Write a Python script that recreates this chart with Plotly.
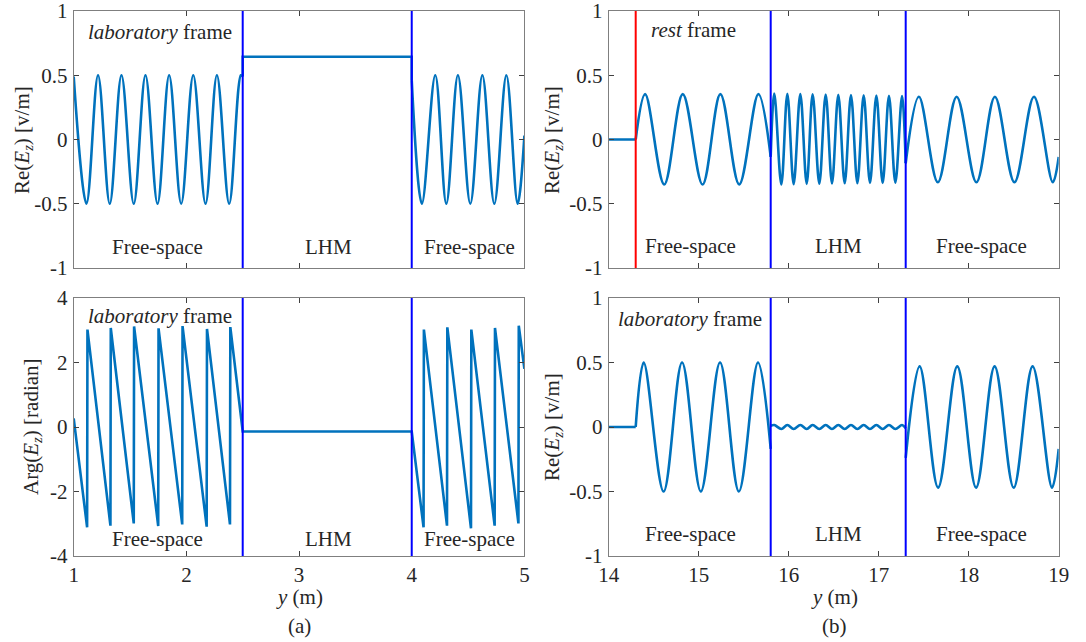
import plotly.graph_objects as go

# ---------------- data ----------------
# (a) top: Re(Ez), laboratory frame
a_fs1_x = [1.0, 1.113, 1.216, 1.32, 1.424, 1.533, 1.637, 1.744, 1.847, 1.954, 2.061, 2.17, 2.271, 2.38, 2.484, 2.5]
a_fs1_y = [0.49, -0.5, 0.5, -0.5, 0.5, -0.5, 0.5, -0.5, 0.5, -0.5, 0.5, -0.5, 0.5, -0.5, 0.5, 0.49]
a_lhm_x = [2.5, 2.5, 4.0, 4.0]
a_lhm_y = [0.49, 0.644, 0.644, 0.46]
a_fs2_x = [4.0, 4.09, 4.209, 4.307, 4.41, 4.52, 4.627, 4.733, 4.84, 4.94, 5.0]
a_fs2_y = [0.46, -0.5, 0.5, -0.5, 0.5, -0.5, 0.5, -0.5, 0.5, -0.5, 0.03]

# (a) bottom: Arg(Ez), laboratory frame
a_arg_x = [1.0, 1.119, 1.122, 1.326, 1.329, 1.533, 1.536, 1.75, 1.753, 1.963, 1.966,
           2.18, 2.183, 2.387, 2.39, 2.5, 4.0,
           4.105, 4.108, 4.313, 4.316, 4.526, 4.529, 4.736, 4.739, 4.947, 4.95, 5.0]
a_arg_y = [0.27, -3.11, 3.02, -3.06, 3.07, -2.99, 3.12, -3.07, 3.06, -3.02, 3.13,
           -3.09, 3.04, -3.02, 3.10, -0.14, -0.14,
           -3.11, 3.02, -3.06, 3.09, -3.14, 3.02, -3.06, 3.07, -2.99, 3.14, 1.8]

# (b) top: Re(Ez), rest frame
b_rest_pre_x = [14.0, 14.3]
b_rest_pre_y = [0.0, 0.0]
b_rest_fs1_x = [14.3, 14.405, 14.617, 14.823, 15.043, 15.241, 15.45, 15.663, 15.8]
b_rest_fs1_y = [0.0, 0.353, -0.35, 0.353, -0.35, 0.353, -0.35, 0.353, -0.134]
b_lhm_x = [15.8, 15.840, 15.918, 15.985, 16.055, 16.129, 16.200, 16.266, 16.340, 16.411, 16.481,
           16.551, 16.622, 16.692, 16.763, 16.833, 16.903, 16.974, 17.044, 17.114, 17.185, 17.259, 17.3]
b_rest_lhm_y = [-0.134, 0.358, -0.349, 0.356, -0.347, 0.354, -0.345, 0.352, -0.344, 0.350, -0.342,
                0.348, -0.341, 0.346, -0.340, 0.344, -0.339, 0.342, -0.338, 0.340, -0.336, 0.339, -0.185]
b_rest_fs2_x = [17.3, 17.447, 17.657, 17.866, 18.086, 18.291, 18.508, 18.725, 18.934, 19.0]
b_rest_fs2_y = [-0.185, 0.333, -0.333, 0.333, -0.333, 0.333, -0.333, 0.333, -0.333, -0.135]

# (b) bottom: Re(Ez), laboratory frame
b_lab_pre_x = [14.0, 14.3]
b_lab_pre_y = [0.0, 0.0]
b_lab_fs1_x = [14.3, 14.389, 14.61, 14.815, 15.024, 15.237, 15.446, 15.659, 15.8]
b_lab_fs1_y = [0.0, 0.5, -0.5, 0.5, -0.5, 0.5, -0.5, 0.5, -0.17]
b_lab_lhm_y = [0.01, 0.015, -0.015, 0.015, -0.015, 0.015, -0.015, 0.015, -0.015, 0.015, -0.015,
               0.015, -0.015, 0.015, -0.015, 0.015, -0.015, 0.015, -0.015, 0.015, -0.015, 0.015, -0.01]
b_lab_fs2_x = [17.3, 17.455, 17.66, 17.873, 18.082, 18.288, 18.5, 18.71, 18.926, 19.0]
b_lab_fs2_y = [-0.24, 0.47, -0.47, 0.47, -0.47, 0.47, -0.47, 0.47, -0.47, -0.17]

# interfaces
a_interfaces = [2.5, 4.0]
b_source = [14.3]
b_interfaces = [15.8, 17.3]

# ticks
a_xticks = [1, 2, 3, 4, 5]
b_xticks = [14, 15, 16, 17, 18, 19]
re_yticks = [-1, -0.5, 0, 0.5, 1]
re_ytext = ["-1", "-0.5", "0", "0.5", "1"]
arg_yticks = [-4, -2, 0, 2, 4]
arg_ytext = ["-4", "-2", "0", "2", "4"]

# ---------------- styling ----------------
FONT = "Liberation Serif"
FS = 21
CURVE = "#0072BD"
TXT = "#262626"
W, H = 1086, 642

fig = go.Figure()


def curve(x, y, xa, ya, shape="spline"):
    fig.add_trace(go.Scatter(x=x, y=y, mode="lines", xaxis=xa, yaxis=ya,
                             line=dict(color=CURVE, width=2.6, shape=shape,
                                       smoothing=1.0 if shape == "spline" else None),
                             showlegend=False, hoverinfo="skip"))


# (a) top
curve(a_fs1_x, a_fs1_y, "x", "y")
curve(a_lhm_x, a_lhm_y, "x", "y", "linear")
curve(a_fs2_x, a_fs2_y, "x", "y")
# (a) bottom
curve(a_arg_x, a_arg_y, "x3", "y3", "linear")
# (b) top
curve(b_rest_pre_x, b_rest_pre_y, "x2", "y2", "linear")
curve(b_rest_fs1_x, b_rest_fs1_y, "x2", "y2")
curve(b_lhm_x, b_rest_lhm_y, "x2", "y2")
curve(b_rest_fs2_x, b_rest_fs2_y, "x2", "y2")
# (b) bottom
curve(b_lab_pre_x, b_lab_pre_y, "x4", "y4", "linear")
curve(b_lab_fs1_x, b_lab_fs1_y, "x4", "y4")
curve(b_lhm_x, b_lab_lhm_y, "x4", "y4")
curve(b_lab_fs2_x, b_lab_fs2_y, "x4", "y4")

# domains (paper fractions)
LX = [73.7 / W, 524.4 / W]
RX = [608.7 / W, 1058.7 / W]
TY = [1 - 268 / H, 1 - 11 / H]
BY = [1 - 556 / H, 1 - 298 / H]

AX_LINE = "#7f7f7f"


def xaxis(domain, anchor, rng, ticks, labels):
    return dict(domain=domain, anchor=anchor, range=rng, tickvals=ticks,
                ticktext=[str(t) for t in ticks], showticklabels=labels,
                ticks="inside", ticklen=5, tickwidth=1, tickcolor="#404040",
                showline=True, linecolor=AX_LINE, linewidth=1, mirror="ticks",
                showgrid=False, zeroline=False, automargin=False,
                ticklabeloverflow="allow",
                tickfont=dict(family=FONT, size=FS, color=TXT), fixedrange=True)


def yaxis(domain, anchor, rng, ticks, text):
    return dict(domain=domain, anchor=anchor, range=rng, tickvals=ticks, ticktext=text,
                ticks="inside", ticklen=5, tickwidth=1, tickcolor="#404040",
                showline=True, linecolor=AX_LINE, linewidth=1, mirror="ticks",
                showgrid=False, zeroline=False, ticklabelstandoff=1, automargin=False,
                ticklabeloverflow="allow",
                tickfont=dict(family=FONT, size=FS, color=TXT), fixedrange=True)


fig.update_layout(
    width=W, height=H, margin=dict(l=0, r=0, t=0, b=0, autoexpand=False),
    paper_bgcolor="white", plot_bgcolor="white",
    font=dict(family=FONT, size=FS, color=TXT),
    xaxis=xaxis(LX, "y", [1, 5], a_xticks, False),
    yaxis=yaxis(TY, "x", [-1, 1], re_yticks, re_ytext),
    xaxis2=xaxis(RX, "y2", [14, 19], b_xticks, False),
    yaxis2=yaxis(TY, "x2", [-1, 1], re_yticks, re_ytext),
    xaxis3=xaxis(LX, "y3", [1, 5], a_xticks, True),
    yaxis3=yaxis(BY, "x3", [-4, 4], arg_yticks, arg_ytext),
    xaxis4=xaxis(RX, "y4", [14, 19], b_xticks, True),
    yaxis4=yaxis(BY, "x4", [-1, 1], re_yticks, re_ytext),
)

# interface lines
shapes = []
for xv in a_interfaces:
    for xr, yr in (("x", "y domain"), ("x3", "y3 domain")):
        shapes.append(dict(type="line", xref=xr, yref=yr, x0=xv, x1=xv, y0=0, y1=1,
                           line=dict(color="#0000FF", width=2)))
for xv in b_interfaces:
    for xr, yr in (("x2", "y2 domain"), ("x4", "y4 domain")):
        shapes.append(dict(type="line", xref=xr, yref=yr, x0=xv, x1=xv, y0=0, y1=1,
                           line=dict(color="#0000FF", width=2)))
for xv in b_source:
    shapes.append(dict(type="line", xref="x2", yref="y2 domain", x0=xv, x1=xv, y0=0, y1=1,
                       line=dict(color="#FF0000", width=2)))
fig.update_layout(shapes=shapes)

ann = []


def txt(text, x, y, xr, yr, size=FS, angle=0, xanchor="center"):
    ann.append(dict(text=text, x=x, y=y, xref=xr, yref=yr, showarrow=False,
                    xanchor=xanchor, yanchor="middle", textangle=angle,
                    font=dict(family=FONT, size=size, color=TXT)))


# in-panel labels
txt("<i>laboratory</i> frame", 1.769, 0.837, "x", "y")
txt("Free-space", 1.747, -0.84, "x", "y")
txt("LHM", 3.258, -0.84, "x", "y")
txt("Free-space", 4.511, -0.84, "x", "y")

txt("<i>laboratory</i> frame", 1.769, 3.45, "x3", "y3")
txt("Free-space", 1.747, -3.47, "x3", "y3")
txt("LHM", 3.258, -3.47, "x3", "y3")
txt("Free-space", 4.511, -3.47, "x3", "y3")

txt("<i>rest</i> frame", 14.94, 0.85, "x2", "y2")
txt("Free-space", 14.91, -0.83, "x2", "y2")
txt("LHM", 16.55, -0.83, "x2", "y2")
txt("Free-space", 18.14, -0.83, "x2", "y2")

txt("<i>laboratory</i> frame", 14.907, 0.837, "x4", "y4")
txt("Free-space", 14.91, -0.83, "x4", "y4")
txt("LHM", 16.55, -0.83, "x4", "y4")
txt("Free-space", 18.14, -0.83, "x4", "y4")

# axis titles
ytitle_re = "Re(<i>E</i><sub><i>z</i></sub>) [v/m]"
ytitle_arg = "Arg(<i>E</i><sub><i>z</i></sub>) [radian]"
txt(ytitle_re, 23 / W, 1 - 140 / H, "paper", "paper", angle=-90)
txt(ytitle_arg, 32 / W, 1 - 427 / H, "paper", "paper", angle=-90)
txt(ytitle_re, 553 / W, 1 - 140 / H, "paper", "paper", angle=-90)
txt(ytitle_re, 553 / W, 1 - 427 / H, "paper", "paper", angle=-90)

txt("<i>y</i> (m)", 299 / W, 1 - 597 / H, "paper", "paper")
txt("<i>y</i> (m)", 834 / W, 1 - 597 / H, "paper", "paper")
txt("(a)", 299 / W, 1 - 626 / H, "paper", "paper")
txt("(b)", 834 / W, 1 - 626 / H, "paper", "paper")

fig.update_layout(annotations=ann)

fig.write_html("out.html", config={"displayModeBar": False},
               post_script="document.body.style.margin='0';document.body.style.overflow='hidden';")
